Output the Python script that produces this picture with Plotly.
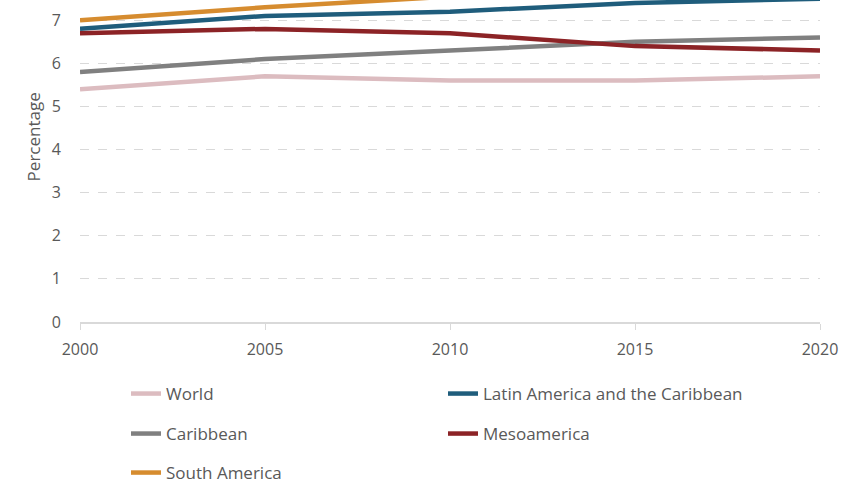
import plotly.graph_objects as go

years = [2000, 2005, 2010, 2015, 2020]
world = [5.4, 5.7, 5.6, 5.6, 5.7]
lac = [6.8, 7.1, 7.2, 7.4, 7.5]
caribbean = [5.8, 6.1, 6.3, 6.5, 6.6]
mesoamerica = [6.7, 6.8, 6.7, 6.4, 6.3]
south_america = [7.0, 7.3, 7.55, 7.8, 8.0]

series = [
    ("World", world, "#dcbcc0", "legend"),
    ("Latin America and the Caribbean", lac, "#1f5d7c", "legend"),
    ("Caribbean", caribbean, "#808080", "legend2"),
    ("Mesoamerica", mesoamerica, "#8c2326", "legend2"),
    ("South America", south_america, "#d68c2f", "legend3"),
]

FONT = "Open Sans, sans-serif"
TXT = "#595959"

fig = go.Figure()
for name, vals, color, lg in series:
    fig.add_trace(go.Scatter(x=years, y=vals, name=name, mode="lines",
                             line=dict(color=color, width=4.5), legend=lg))

leg_common = dict(orientation="h", xref="container", yref="container",
                  xanchor="left", yanchor="middle", entrywidth=272,
                  font=dict(family=FONT, size=17, color=TXT),
                  bgcolor="rgba(0,0,0,0)", itemwidth=30)

LX = 126 / 851
fig.update_layout(
    width=851, height=483,
    margin=dict(l=80, r=31, t=0, b=161),
    plot_bgcolor="white", paper_bgcolor="white",
    font=dict(family=FONT, color=TXT),
    showlegend=True,
    legend=dict(x=LX, y=1 - 394/483, **leg_common),
    legend2=dict(x=LX, y=1 - 434/483, **leg_common),
    legend3=dict(x=LX, y=1 - 473/483, **leg_common),
    xaxis=dict(range=[2000, 2020], tickvals=years, showgrid=False,
               showline=True, linecolor="#d9d9d9", linewidth=1.5,
               ticks="outside", ticklen=6, tickcolor="#d9d9d9",
               ticklabelstandoff=6,
               tickfont=dict(family=FONT, size=16, color=TXT), zeroline=False),
    yaxis=dict(range=[0, 7.47], tickvals=[0, 1, 2, 3, 4, 5, 6, 7],
               showgrid=True, gridcolor="#d9d9d9", griddash="dash", gridwidth=1,
               zeroline=False, showline=False, ticks="",
               ticklabelstandoff=18,
               tickfont=dict(family=FONT, size=16, color=TXT)),
    annotations=[dict(text="Percentage", xref="paper", yref="paper",
                      x=-0.063, y=(322 - 137) / 322, xanchor="center", yanchor="middle",
                      textangle=-90, showarrow=False,
                      font=dict(family=FONT, size=17, color=TXT))],
)

fig.write_html("out.html")
